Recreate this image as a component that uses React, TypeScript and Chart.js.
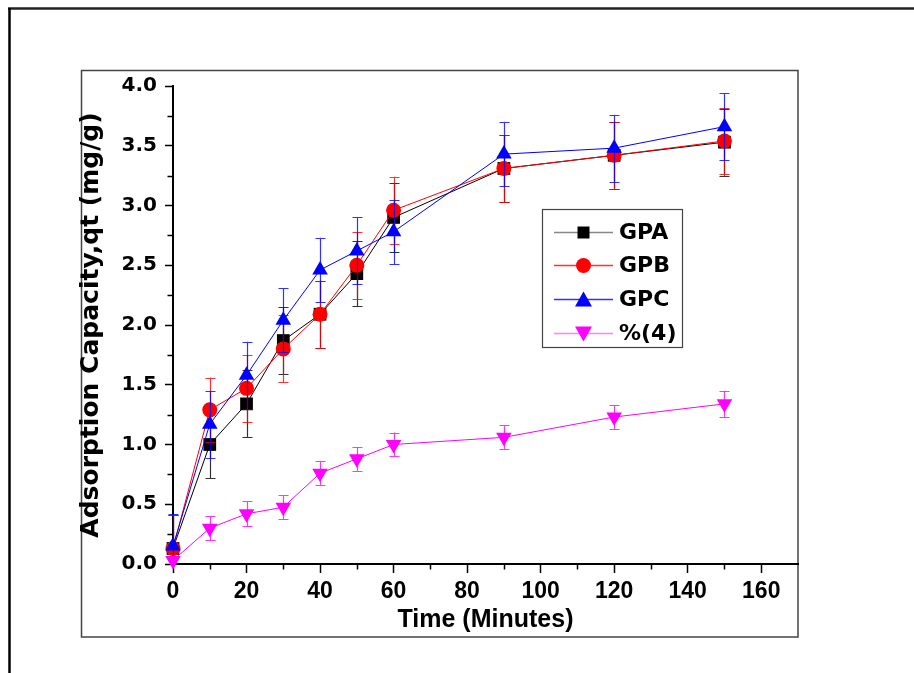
import React, { useEffect, useRef } from "react";
import { Chart, registerables } from "chart.js";

Chart.register(...registerables);

// ---- Data ----
const times = [0, 10, 20, 30, 40, 50, 60, 90, 120, 150];
const seriesLabels = ["GPA", "GPB", "GPC", "%(4)"];
const gpa = [0.13, 1.0, 1.34, 1.87, 2.09, 2.43, 2.9, 3.31, 3.42, 3.53];
const gpaErr = [0.28, 0.28, 0.28, 0.28, 0.28, 0.27, 0.29, 0.28, 0.28, 0.28];
const gpb = [0.13, 1.29, 1.47, 1.8, 2.09, 2.5, 2.96, 3.31, 3.42, 3.54];
const gpbErr = [0.28, 0.27, 0.28, 0.28, 0.28, 0.28, 0.28, 0.28, 0.28, 0.28];
const gpc = [0.15, 1.17, 1.58, 2.04, 2.46, 2.62, 2.78, 3.43, 3.48, 3.66];
const gpcErr = [0.27, 0.28, 0.28, 0.27, 0.27, 0.28, 0.27, 0.27, 0.28, 0.28];
const p4 = [0.03, 0.3, 0.42, 0.475, 0.76, 0.88, 1.0, 1.06, 1.23, 1.34];
const p4Err = [0.04, 0.1, 0.105, 0.1, 0.1, 0.1, 0.1, 0.1, 0.1, 0.11];
const xTickValues = [0, 20, 40, 60, 80, 100, 120, 140, 160];
const colors = ["#000000", "#ff0000", "#0000ff", "#ff00ff"];
const legendLineColors = ["#888888", "#ff3030", "#3030ff", "#ff80ff"];
const markers = ["rect", "circle", "triangle", "triangleDown"];

const xTitle = "Time (Minutes)";
const yTitle = "Adsorption Capacity,qt (mg/g)";

const FONT = "'Liberation Sans', Arial, sans-serif";
const WIDE = "'DejaVu Sans', Verdana, sans-serif";

function drawMarker(ctx: CanvasRenderingContext2D, kind: string, x: number, y: number, color: string) {
  ctx.save();
  ctx.fillStyle = color;
  ctx.beginPath();
  if (kind === "rect") {
    ctx.rect(x - 6, y - 6, 12, 12);
  } else if (kind === "circle") {
    ctx.arc(x, y, 7.5, 0, Math.PI * 2);
  } else if (kind === "triangle") {
    ctx.moveTo(x, y - 8);
    ctx.lineTo(x + 8.5, y + 7);
    ctx.lineTo(x - 8.5, y + 7);
    ctx.closePath();
  } else {
    ctx.moveTo(x, y + 8);
    ctx.lineTo(x + 8.5, y - 7);
    ctx.lineTo(x - 8.5, y - 7);
    ctx.closePath();
  }
  ctx.fill();
  ctx.restore();
}

const framePlugin = {
  id: "frames",
  beforeDraw(chart: any) {
    const ctx = chart.ctx as CanvasRenderingContext2D;
    ctx.save();
    ctx.fillStyle = "#ffffff";
    ctx.fillRect(0, 0, chart.width, chart.height);
    ctx.strokeStyle = "#222222";
    ctx.lineWidth = 2.5;
    ctx.beginPath();
    ctx.moveTo(8, 8.5);
    ctx.lineTo(chart.width, 8.5);
    ctx.stroke();
    ctx.strokeStyle = "#000000";
    ctx.beginPath();
    ctx.moveTo(9.5, 8);
    ctx.lineTo(9.5, chart.height);
    ctx.stroke();
    ctx.strokeStyle = "#444444";
    ctx.lineWidth = 1.5;
    ctx.strokeRect(81.5, 70.5, 798 - 81.5, 637 - 70.5);
    ctx.restore();
  },
  afterDraw(chart: any) {
    const ctx = chart.ctx as CanvasRenderingContext2D;
    const xs = chart.scales.x;
    const ys = chart.scales.y;
    ctx.save();
    ctx.strokeStyle = "#000000";
    ctx.lineWidth = 1.5;
    for (let v = 10; v < 170; v += 20) {
      const px = Math.round(xs.getPixelForValue(v)) + 0.5;
      ctx.beginPath();
      ctx.moveTo(px, xs.top);
      ctx.lineTo(px, xs.top + 5.5);
      ctx.stroke();
    }
    for (let v = 0.25; v < 4; v += 0.5) {
      const py = Math.round(ys.getPixelForValue(v)) + 0.5;
      ctx.beginPath();
      ctx.moveTo(ys.right, py);
      ctx.lineTo(ys.right - 5.5, py);
      ctx.stroke();
    }
    // legend
    const bx = 542, by = 209, bw = 140, bh = 138;
    ctx.strokeStyle = "#444444";
    ctx.lineWidth = 1.2;
    ctx.strokeRect(bx + 0.5, by + 0.5, bw, bh);
    const rows = [232, 265, 299, 333];
    ctx.font = `bold 22px ${WIDE}`;
    ctx.textBaseline = "middle";
    ctx.textAlign = "left";
    chart.data.datasets.forEach((ds: any, i: number) => {
      const ry = rows[i];
      ctx.strokeStyle = legendLineColors[i];
      ctx.lineWidth = 1.5;
      ctx.beginPath();
      ctx.moveTo(554, ry + 0.5);
      ctx.lineTo(613, ry + 0.5);
      ctx.stroke();
      drawMarker(ctx, markers[i], 583.5, ry + 0.5, colors[i]);
      ctx.fillStyle = "#000000";
      ctx.fillText(ds.label, 619, ry + 1);
    });
    ctx.restore();
  },
};

const errorBarPlugin = {
  id: "errorBars",
  beforeDatasetDraw(chart: any, args: any) {
    const ds = chart.data.datasets[args.index];
    const errs: number[] = ds.errors;
    if (!errs) return;
    const ctx = chart.ctx as CanvasRenderingContext2D;
    const ys = chart.scales.y;
    const area = chart.chartArea;
    ctx.save();
    ctx.beginPath();
    ctx.rect(area.left - 20, area.top - 20, area.right - area.left + 40, area.bottom - area.top + 20);
    ctx.clip();
    ctx.strokeStyle = ds.borderColor;
    ctx.lineWidth = 1.2;
    ctx.globalAlpha = 0.8;
    args.meta.data.forEach((pt: any, i: number) => {
      const v = ds.data[i].y;
      const e = errs[i];
      const x = Math.round(pt.x) + 0.5;
      const y1 = ys.getPixelForValue(v + e);
      const y2 = ys.getPixelForValue(v - e);
      ctx.beginPath();
      ctx.moveTo(x, y1);
      ctx.lineTo(x, y2);
      ctx.moveTo(x - 5, Math.round(y1) + 0.5);
      ctx.lineTo(x + 5, Math.round(y1) + 0.5);
      ctx.moveTo(x - 5, Math.round(y2) + 0.5);
      ctx.lineTo(x + 5, Math.round(y2) + 0.5);
      ctx.stroke();
    });
    ctx.restore();
  },
};

export default function App() {
  const canvasRef = useRef<HTMLCanvasElement | null>(null);

  useEffect(() => {
    if (!canvasRef.current) return;
    const values = [gpa, gpb, gpc, p4];
    const errors = [gpaErr, gpbErr, gpcErr, p4Err];
    const styles = ["rect", "circle", "triangle", "triangle"];
    const radii = [9, 7.5, 9, 9];
    const chart = new Chart(canvasRef.current, {
      type: "line",
      data: {
        datasets: values.map((vals, i) => ({
          label: seriesLabels[i],
          data: times.map((t, k) => ({ x: t, y: vals[k] })),
          errors: errors[i],
          borderColor: colors[i],
          backgroundColor: colors[i],
          borderWidth: 1,
          pointStyle: styles[i],
          pointRotation: i === 3 ? 180 : 0,
          pointRadius: radii[i],
          pointBorderWidth: 0,
          pointBackgroundColor: colors[i],
          tension: 0,
          clip: false,
          order: 3 - i,
        })) as any,
      },
      options: {
        responsive: false,
        animation: false,
        devicePixelRatio: 1,
        layout: { padding: { left: 76, right: 116, top: 86, bottom: 38 } },
        plugins: { legend: { display: false }, tooltip: { enabled: false } },
        scales: {
          x: {
            type: "linear",
            min: 0,
            max: 170,
            afterBuildTicks: (scale: any) => {
              scale.ticks = xTickValues.map((v) => ({ value: v }));
            },
            afterFit: (scale: any) => {
              scale.height = 71;
            },
            ticks: {
              stepSize: 20,
              autoSkip: false,
              maxRotation: 0,
              padding: 5,
              color: "#000000",
              font: { family: FONT, weight: "bold", size: 23 },
            },
            grid: {
              drawOnChartArea: false,
              drawTicks: true,
              tickLength: 9,
              tickWidth: 1.5,
              tickColor: "#000000",
            },
            border: { display: true, color: "#000000", width: 2 },
            title: {
              display: true,
              text: xTitle,
              color: "#000000",
              padding: 0,
              font: { family: FONT, weight: "bold", size: 25 },
            },
          },
          y: {
            type: "linear",
            min: 0,
            max: 4,
            afterFit: (scale: any) => {
              scale.width = 97;
            },
            ticks: {
              stepSize: 0.5,
              padding: 8,
              color: "#000000",
              callback: (v: any) => Number(v).toFixed(1),
              font: { family: WIDE, weight: "bold", size: 20 },
            },
            grid: {
              drawOnChartArea: false,
              drawTicks: true,
              tickLength: 8,
              tickWidth: 1.5,
              tickColor: "#000000",
            },
            border: { display: true, color: "#000000", width: 2 },
            title: {
              display: true,
              text: yTitle,
              color: "#000000",
              padding: 0,
              font: { family: WIDE, weight: "bold", size: 25 },
            },
          },
        },
      },
      plugins: [framePlugin, errorBarPlugin],
    });
    return () => chart.destroy();
  }, []);

  return (
    <div style={{ position: "fixed", left: 0, top: 0, width: 914, height: 673 }}>
      <canvas ref={canvasRef} width={914} height={673} style={{ display: "block", width: 914, height: 673 }} />
    </div>
  );
}
